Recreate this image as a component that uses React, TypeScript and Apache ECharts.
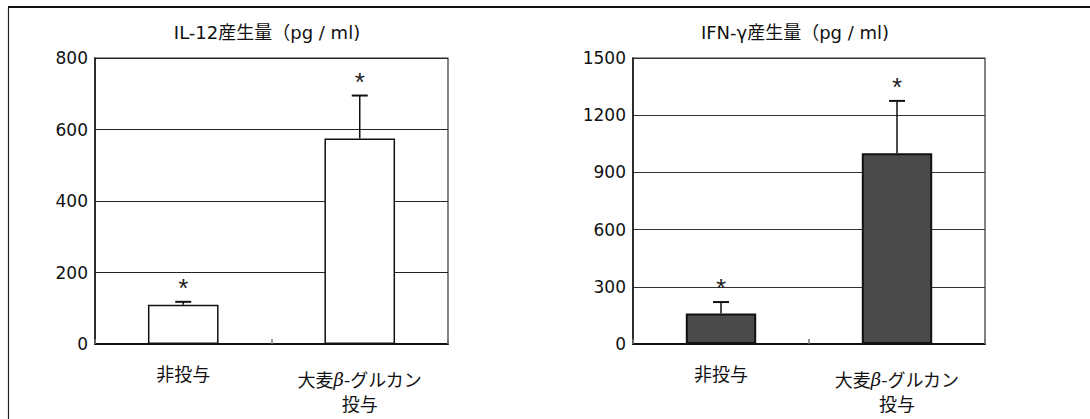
import React, { useEffect, useRef } from "react";
import * as echarts from "echarts";

const categories = ["非投与", "大麦β-グルカン\n投与"];
const titles = ["IL-12産生量（pg / ml)", "IFN-γ産生量（pg / ml)"];
const il12Values = [110, 575];
const il12Errors = [8, 120];
const ifnValues = [160, 1000];
const ifnErrors = [60, 275];
const il12Ticks = [0, 200, 400, 600, 800];
const ifnTicks = [0, 300, 600, 900, 1200, 1500];

const LATIN = "'DejaVu Sans', 'Noto Sans CJK JP', sans-serif";
const CJK = "'Noto Sans CJK JP', 'DejaVu Sans', sans-serif";

const errRender = (_params: any, api: any) => {
  const i = api.value(0);
  const v = api.value(1);
  const e = api.value(2);
  const base = api.coord([i, v]);
  const top = api.coord([i, v + e]);
  return {
    type: "group",
    children: [
      {
        type: "line",
        shape: { x1: base[0], y1: base[1], x2: top[0], y2: top[1] },
        style: { stroke: "#111", lineWidth: 1.5 },
      },
      {
        type: "line",
        shape: { x1: top[0] - 8, y1: top[1], x2: top[0] + 8, y2: top[1] },
        style: { stroke: "#111", lineWidth: 2 },
      },
      {
        type: "text",
        x: top[0],
        y: top[1] - 1,
        style: {
          text: "*",
          fontSize: 26,
          fill: "#222",
          textAlign: "center",
          textVerticalAlign: "bottom",
          fontFamily: "'Liberation Sans', sans-serif",
        },
      },
    ],
  };
};

const labelFormatter = (value: string, index: number) => {
  if (index === 0) return `{s|${value}}`;
  const lines = value.split("\n");
  const first = `{a|${lines[0].replace("β", "}{ab|β}{a|")}}`;
  const rest = lines.slice(1).map((l) => `{a|${l}}`);
  return [first, ...rest].join("\n");
};

const xAxisFor = (gridIndex: number) => ({
  type: "category",
  gridIndex,
  data: categories,
  axisLine: { lineStyle: { color: "#111", width: 2 } },
  axisTick: { show: true, inside: true, length: 5, lineStyle: { color: "#777", width: 1.5 } },
  axisLabel: {
    interval: 0,
    margin: 23,
    color: "#111",
    formatter: labelFormatter,
    rich: {
      s: { fontSize: 18, lineHeight: 11, fontFamily: CJK, color: "#111" },
      a: { fontSize: 18, lineHeight: 24, fontFamily: CJK, color: "#111" },
      ab: { fontSize: 18, lineHeight: 24, fontFamily: "'DejaVu Serif', serif", fontStyle: "italic", color: "#111" },
    },
  },
  splitLine: { show: false },
});

const yAxisFor = (gridIndex: number, ticks: number[], gridColor: string) => ({
  type: "value",
  gridIndex,
  min: ticks[0],
  max: ticks[ticks.length - 1],
  interval: ticks[1] - ticks[0],
  axisLine: { show: true, lineStyle: { color: "#111", width: 1.5 } },
  axisTick: { show: false },
  axisLabel: { margin: 7, fontSize: 17, color: "#111", fontFamily: LATIN, formatter: (v: number) => String(v) },
  splitLine: { show: true, lineStyle: { color: gridColor, width: 1.2 } },
});

export default function App() {
  const ref = useRef<HTMLDivElement>(null);
  useEffect(() => {
    document.body.style.margin = "0";
    if (!ref.current) return;
    const chart = echarts.init(ref.current, undefined, { renderer: "svg" });
    chart.setOption({
      animation: false,
      backgroundColor: "#fff",
      title: [
        {
          text: titles[0],
          left: 267,
          top: 23,
          padding: 0,
          textAlign: "center",
          textStyle: { fontSize: 18, fontWeight: "normal", color: "#111", fontFamily: LATIN },
        },
        {
          text: titles[1],
          left: 795,
          top: 23,
          padding: 0,
          textAlign: "center",
          textStyle: { fontSize: 18, fontWeight: "normal", color: "#111", fontFamily: LATIN },
        },
      ],
      grid: [
        { left: 95, right: 642, top: 58, bottom: 75, show: true, borderColor: "#333", borderWidth: 1.2, backgroundColor: "transparent" },
        { left: 633, right: 105, top: 58, bottom: 75, show: true, borderColor: "#333", borderWidth: 1.2, backgroundColor: "transparent" },
      ],
      xAxis: [xAxisFor(0), xAxisFor(1)],
      yAxis: [yAxisFor(0, il12Ticks, "#222"), yAxisFor(1, ifnTicks, "#333")],
      graphic: [
        { type: "line", shape: { x1: 8, y1: 7, x2: 1090, y2: 7 }, style: { stroke: "#111", lineWidth: 2 } },
        { type: "line", shape: { x1: 8.5, y1: 7, x2: 8.5, y2: 419 }, style: { stroke: "#222", lineWidth: 1.2 } },
      ],
      series: [
        {
          type: "bar",
          xAxisIndex: 0,
          yAxisIndex: 0,
          data: il12Values,
          barWidth: "40%",
          itemStyle: { color: "#fff", borderColor: "#111", borderWidth: 1.5 },
        },
        {
          type: "custom",
          xAxisIndex: 0,
          yAxisIndex: 0,
          renderItem: errRender,
          data: il12Values.map((v, i) => [i, v, il12Errors[i]]),
          z: 5,
        },
        {
          type: "bar",
          xAxisIndex: 1,
          yAxisIndex: 1,
          data: ifnValues,
          barWidth: "40%",
          itemStyle: { color: "#4a4a4a", borderColor: "#111", borderWidth: 2 },
        },
        {
          type: "custom",
          xAxisIndex: 1,
          yAxisIndex: 1,
          renderItem: errRender,
          data: ifnValues.map((v, i) => [i, v, ifnErrors[i]]),
          z: 5,
        },
      ],
    });
    return () => chart.dispose();
  }, []);
  return <div ref={ref} style={{ width: 1090, height: 419 }} />;
}
